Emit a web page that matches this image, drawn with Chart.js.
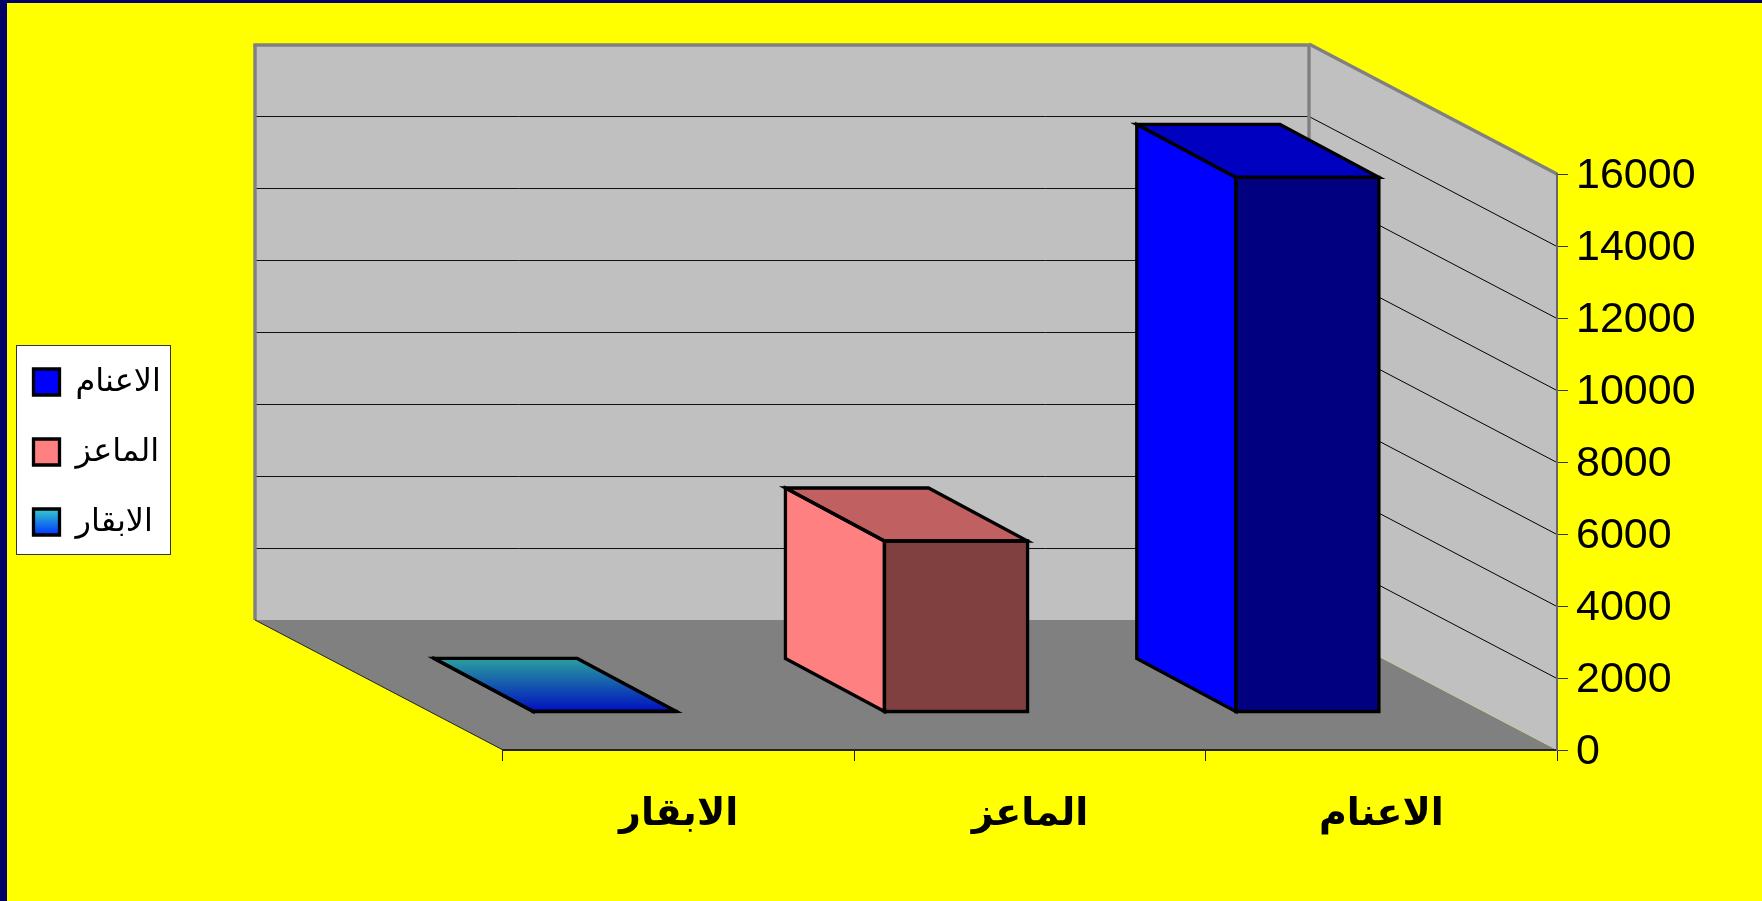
<!DOCTYPE html>
<html>
<head>
<meta charset="utf-8">
<style>
	html, body { margin: 0; padding: 0; background: #ffff00; overflow: hidden; }
	canvas { display: block; }
</style>
<script src="https://cdn.jsdelivr.net/npm/chart.js@4/dist/chart.umd.min.js"></script>
</head>
<body>
<canvas id="chart" width="1762" height="901"></canvas>
<script>
var categories = ["الابقار", "الماعز", "الاعنام"];
var values = [15, 4750, 14850];
var legendOrder = [2, 1, 0];
var yTickStep = 2000;
var yMax = 16000;

// faces of each bar : front, side, top
var frontColors = ["#0a18c0", "#804040", "#000080"];
var sideColors = ["#0a18c0", "#ff8080", "#0000ff"];
var topColors = ["#0000c0", "#c06060", "#0000c0"];
var swatchColors = ["#33cccc", "#ff8080", "#0000ff"];

var wallDepth = { x: 248, y: 130 };
var barFront = { x: -74, y: -38 };
var barDepth = { x: -99, y: -53 };
var legendBox = { left: 16.5, top: 345.5, width: 154, height: 209 };

function cowGradient(ctx, top, bottom, c1, c2)
{
	var g = ctx.createLinearGradient(0, top, 0, bottom);
	g.addColorStop(0, c1);
	g.addColorStop(1, c2);
	return g;
}

function poly(ctx, pts, fill, stroke, lw)
{
	ctx.beginPath();
	ctx.moveTo(pts[0][0], pts[0][1]);
	for (var i = 1; i < pts.length; i++) ctx.lineTo(pts[i][0], pts[i][1]);
	ctx.closePath();
	if (fill) { ctx.fillStyle = fill; ctx.fill(); }
	if (stroke) { ctx.strokeStyle = stroke; ctx.lineWidth = lw; ctx.stroke(); }
}

function line(ctx, x1, y1, x2, y2, color, lw)
{
	ctx.beginPath();
	ctx.moveTo(x1, y1);
	ctx.lineTo(x2, y2);
	ctx.strokeStyle = color;
	ctx.lineWidth = lw;
	ctx.stroke();
}

function barFaces(el)
{
	var l = el.x - el.width / 2 + barFront.x;
	var r = el.x + el.width / 2 + barFront.x;
	var t = el.y + barFront.y;
	var b = el.base + barFront.y;
	return { l: l, r: r, t: t, b: b, dx: barDepth.x, dy: barDepth.y };
}

var room3d = {
	id: "room3d",
	beforeLayout: function(chart) {
		// legend is moved by hand below, its width only reserves the space left of the plot
		if (!chart.legend._fitPatched) {
			var fit = chart.legend.fit;
			chart.legend.fit = function() {
				fit.call(this);
				this.width = 155;
			};
			chart.legend._fitPatched = true;
		}
	},
	afterLayout: function(chart) {
		var lg = chart.legend;
		lg.left = -4.5;
		lg.right = 170;
		lg.top = 328;
		lg.bottom = 600;
		// y labels sit 2px lower than the tick
		chart.scales.y.getLabelItems().forEach(function(item) {
			item.options.translation[1] += 2;
		});
	},
	beforeDraw: function(chart) {
		var ctx = chart.ctx;
		var x = chart.scales.x, y = chart.scales.y;
		var dx = wallDepth.x, dy = wallDepth.y;
		ctx.save();
		ctx.fillStyle = "#ffff00";
		ctx.fillRect(0, 0, chart.width, chart.height);
		ctx.fillStyle = "#000066";
		ctx.fillRect(0, 0, chart.width, 3);
		ctx.fillRect(0, 0, 7, chart.height);

		var L = x.left, R = x.right, T = y.top, B = y.bottom;
		// floor
		poly(ctx, [[L - dx, B - dy], [R - dx, B - dy], [R, B], [L, B]], "#808080");
		// back wall and right wall
		poly(ctx, [[L - dx, T - dy], [R - dx, T - dy], [R - dx, B - dy], [L - dx, B - dy]], "#c0c0c0");
		poly(ctx, [[R - dx, T - dy], [R, T], [R, B], [R - dx, B - dy]], "#c0c0c0");

		y.ticks.forEach(function(t) {
			if (t.value <= 0 || t.value >= yMax) return;
			var py = Math.round(y.getPixelForValue(t.value)) + 0.5;
			line(ctx, L - dx, py - dy, R - dx, py - dy, "#111111", 1);
			line(ctx, R - dx, py - dy, R, py, "#000000", 1);
		});

		line(ctx, L - dx, T - dy + 1, L - dx, B - dy, "#808080", 3.4);
		line(ctx, L - dx - 1.7, T - dy + 1, R - dx, T - dy + 1, "#808080", 3.4);
		line(ctx, R - dx, T - dy, R - dx, B - dy, "#808080", 3.4);
		line(ctx, R - dx, T - dy, R, T, "#808080", 3.4);
		line(ctx, L - dx, B - dy, L, B, "#222222", 1);

		// legend box
		ctx.fillStyle = "#ffffff";
		ctx.fillRect(legendBox.left, legendBox.top, legendBox.width, legendBox.height);
		ctx.strokeStyle = "#333333";
		ctx.lineWidth = 1;
		ctx.strokeRect(legendBox.left, legendBox.top, legendBox.width, legendBox.height);
		ctx.restore();
	},
	beforeDatasetDraw: function(chart, args) {
		var ctx = chart.ctx;
		var els = args.meta.data;
		ctx.save();
		els.forEach(function(el, i) {
			var f = barFaces(el);
			var top = topColors[i], side = sideColors[i];
			if (i == 0) {
				top = cowGradient(ctx, f.t + f.dy, f.t, "#2a9f9f", "#0010c0");
				side = top;
			}
			poly(ctx, [[f.l, f.t], [f.l, f.b], [f.l + f.dx, f.b + f.dy], [f.l + f.dx, f.t + f.dy]], side);
			poly(ctx, [[f.l, f.t], [f.r, f.t], [f.r + f.dx, f.t + f.dy], [f.l + f.dx, f.t + f.dy]], top);
		});
		ctx.restore();
		ctx.save();
		ctx.translate(barFront.x, barFront.y);
	},
	afterDatasetDraw: function(chart, args) {
		var ctx = chart.ctx;
		ctx.restore();
		ctx.save();
		args.meta.data.forEach(function(el) {
			var f = barFaces(el);
			poly(ctx, [[f.l, f.t], [f.l, f.b], [f.l + f.dx, f.b + f.dy], [f.l + f.dx, f.t + f.dy]], null, "#000000", 3.3);
			poly(ctx, [[f.l, f.t], [f.r, f.t], [f.r + f.dx, f.t + f.dy], [f.l + f.dx, f.t + f.dy]], null, "#000000", 3.3);
			poly(ctx, [[f.l, f.t], [f.r, f.t], [f.r, f.b], [f.l, f.b]], null, "#000000", 3.3);
		});
		ctx.restore();
	}
};

var ctx = document.getElementById("chart").getContext("2d");

var chart = new Chart(ctx, {
	type: "bar",
	data: {
		labels: categories,
		datasets: [{
			data: values,
			backgroundColor: frontColors,
			borderWidth: 0,
			barPercentage: 0.4074,
			categoryPercentage: 1,
			clip: false
		}]
	},
	options: {
		responsive: false,
		animation: false,
		layout: { padding: { left: 348, top: 174, right: 0, bottom: 0 } },
		scales: {
			x: {
				type: "category",
				position: "bottom",
				afterFit: function(a) { a.height = 151; },
				border: { color: "#222222", width: 2 },
				grid: { drawOnChartArea: false, color: "#222222", tickLength: 11, offset: true },
				ticks: {
					color: "#000000",
					padding: 31,
					maxRotation: 0,
					autoSkip: false,
					font: { family: "'Liberation Sans', 'DejaVu Sans'", size: 38, weight: "bold" }
				}
			},
			y: {
				type: "linear",
				position: "right",
				min: 0,
				max: yMax,
				afterFit: function(a) { a.width = 205; },
				border: { color: "#666666", width: 2 },
				grid: { drawOnChartArea: false, color: "#333333", tickLength: 11 },
				ticks: {
					stepSize: yTickStep,
					color: "#000000",
					padding: 8,
					font: { family: "'Liberation Sans', 'DejaVu Sans'", size: 43 },
					callback: function(v) { return String(v); }
				}
			}
		},
		plugins: {
			tooltip: { enabled: false },
			legend: {
				display: true,
				position: "left",
				align: "start",
				labels: {
					boxWidth: 26,
					boxHeight: 26,
					padding: 38,
					color: "#000000",
					font: { family: "'Liberation Sans', 'DejaVu Sans'", size: 32 },
					generateLabels: function(c) {
						return legendOrder.map(function(i) {
							var fill = swatchColors[i];
							if (i == 0) fill = cowGradient(c.ctx, 509, 535, "#33cccc", "#0033ff");
							return {
								text: categories[i],
								fillStyle: fill,
								strokeStyle: "#000000",
								lineWidth: 3.3,
								hidden: false,
								index: i
							};
						});
					}
				}
			}
		}
	},
	plugins: [room3d]
});
</script>
</body>
</html>
